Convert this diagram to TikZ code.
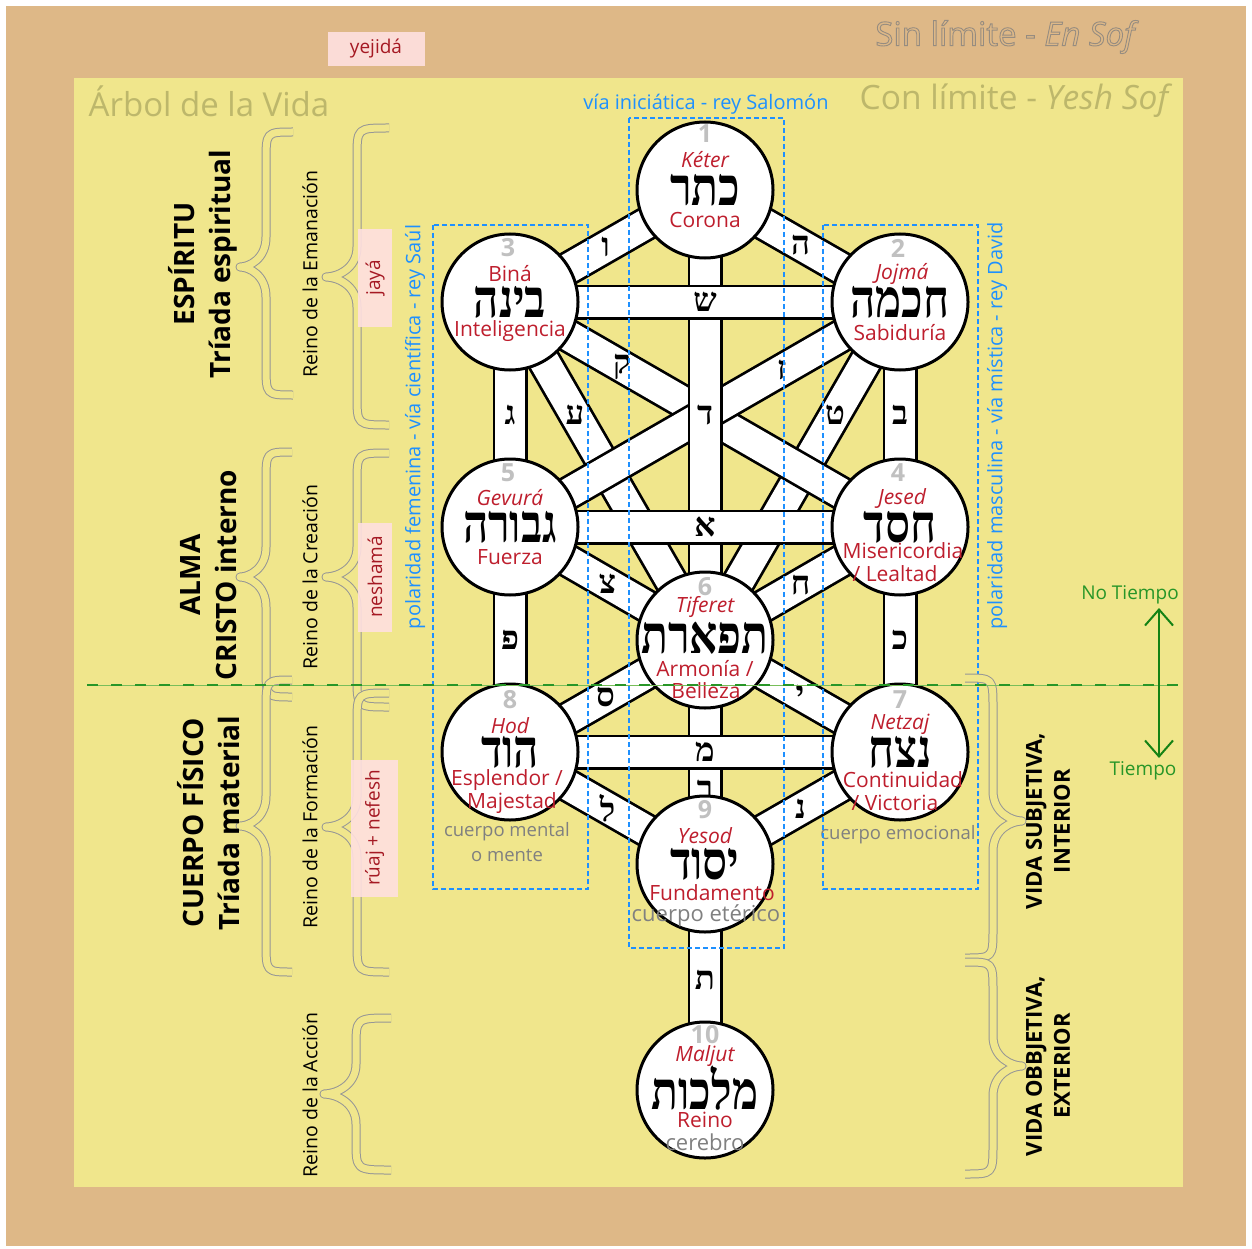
\documentclass[tikz,border=0pt]{standalone}
\usepackage{fontspec}
\setmainfont{Open Sans}
\newfontfamily\heb[Script=Hebrew]{Liberation Serif}
\TeXXeTstate=1
\usetikzlibrary{arrows.meta}
\definecolor{bgtan}{RGB}{222,184,135}
\definecolor{bgkhaki}{RGB}{240,230,140}
\definecolor{titlec}{RGB}{189,183,107}
\definecolor{sefred}{RGB}{190,30,45}
\definecolor{numgray}{RGB}{192,192,192}
\definecolor{txtgray}{RGB}{128,128,128}
\definecolor{viablue}{RGB}{30,144,255}
\definecolor{pinkbg}{RGB}{255,224,224}
\definecolor{pinktxt}{RGB}{165,25,35}
\definecolor{brgray}{RGB}{150,150,150}
\definecolor{tgreen}{RGB}{40,150,40}
\definecolor{agreen}{RGB}{20,130,20}
\definecolor{outlc}{RGB}{150,140,128}
\pgfdeclarelayer{bglayer}
\pgfdeclarelayer{pathlayer}
\pgfsetlayers{bglayer,pathlayer,main}
\newcommand\fs[1]{\fontsize{#1}{#1}\selectfont}
\newcommand\fsb[2]{\fontsize{#1}{#2}\selectfont}
\newcommand\outl[1]{\special{pdf:literal direct q 1 Tr 0.9 w}#1\special{pdf:literal direct Q}}
% sefirot path: from, to, pos, letter, label name
\newcommand\sefpath[5]{%
  \draw[barout] (#1.center) -- (#2.center);
  \draw[barin] (#1.center) -- (#2.center) node[pathlbl,pos=#3] (#5) {\beginR #4\endR};}
% brace: xend, xmid, xtip, ytop, ytip, ybottom
\newcommand\cbrace[6]{%
  \draw[bracestyle] (#1,#4) .. controls (#2,#4) and (#2,#4) .. (#2,#4+30)
    -- (#2,#5-30) .. controls (#2,#5-8) and ({0.65*#3+0.35*#2},#5) .. (#3,#5)
    .. controls ({0.65*#3+0.35*#2},#5) and (#2,#5+8) .. (#2,#5+30)
    -- (#2,#6-30) .. controls (#2,#6) and (#2,#6) .. (#1,#6);}
\begin{document}
\begin{tikzpicture}[x=1pt,y=-1pt,
  sef/.style={circle,draw=black,line width=3pt,fill=white,minimum size=136pt,inner sep=0pt},
  barout/.style={line width=35pt,draw=black},
  barin/.style={line width=29.5pt,draw=white},
  pathlbl/.style={inner sep=0pt,text=black,font=\heb\bfseries\fs{33}},
  num/.style={inner sep=0pt,text=numgray,font=\bfseries\fs{25}},
  nm/.style={inner sep=0pt,text=sefred,font=\itshape\fs{21}},
  nmup/.style={inner sep=0pt,text=sefred,font=\fs{21}},
  hebname/.style={inner sep=0pt,text=black,font=\heb\bfseries\fs{53},xscale=0.83},
  desc/.style={inner sep=0pt,text=sefred,font=\fs{21}},
  extra/.style={inner sep=0pt,text=txtgray,font=\fs{18.5}},
  extrab/.style={inner sep=0pt,text=txtgray,font=\fs{22}},
  vtitle/.style={inner sep=0pt,rotate=90,align=center,text=black,font=\bfseries\fsb{28}{36}},
  reino/.style={inner sep=0pt,rotate=90,text=black,font=\fs{19.5}},
  pinkb/.style={fill=pinkbg,fill opacity=0.9,text opacity=1,text=pinktxt,font=\fs{19},inner sep=0pt},
  bluetxt/.style={inner sep=0pt,text=viablue,font=\fs{20}},
  bluebox/.style={draw=viablue,line width=1.5pt,dash pattern=on 5pt off 3pt},
  bracestyle/.style={draw=brgray,line width=1pt,double=bgkhaki,double distance=7pt,line join=round},
  vida/.style={inner sep=0pt,rotate=90,align=center,text=black,font=\bfseries\fsb{22}{28}},
  gtxt/.style={inner sep=0pt,text=tgreen,font=\fs{19}}
]
\begin{pgfonlayer}{bglayer}
  \fill[white] (0,0) rectangle (1252,1249);
  \fill[bgtan] (6,6) rectangle (1246,1246);
  \fill[bgkhaki] (74,78) rectangle (1183,1187);
\end{pgfonlayer}
\useasboundingbox (0,0) rectangle (1252,1249);

% sefirot circles
\node[sef] (s1) at (705,190) {};
\node[sef] (s2) at (900,302) {};
\node[sef] (s3) at (510,302) {};
\node[sef] (s4) at (900,527) {};
\node[sef] (s5) at (510,527) {};
\node[sef] (s6) at (705,640) {};
\node[sef] (s7) at (900,752) {};
\node[sef] (s8) at (510,752) {};
\node[sef] (s9) at (705,864) {};
\node[sef] (s10) at (705,1090) {};

% paths
\begin{pgfonlayer}{pathlayer}
  \sefpath{s3}{s6}{0.333}{ע}{pA}
  \sefpath{s2}{s6}{0.333}{ט}{pB}
  \sefpath{s3}{s4}{0.287}{ק}{pC}
  \sefpath{s2}{s5}{0.303}{ז}{pD}
  \sefpath{s1}{s6}{0.5}{ד}{pE}
  \sefpath{s3}{s2}{0.5}{ש}{pF}
  \sefpath{s5}{s4}{0.5}{א}{pG}
  \sefpath{s1}{s2}{0.49}{ה}{pH}
  \sefpath{s1}{s3}{0.51}{ו}{pI}
  \sefpath{s3}{s5}{0.5}{ג}{pJ}
  \sefpath{s2}{s4}{0.5}{ב}{pK}
  \sefpath{s5}{s6}{0.5}{צ}{pL}
  \sefpath{s4}{s6}{0.51}{ח}{pM}
  \sefpath{s5}{s8}{0.5}{פ}{pN}
  \sefpath{s4}{s7}{0.5}{כ}{pO}
  \sefpath{s6}{s8}{0.51}{ס}{pP}
  \sefpath{s6}{s7}{0.487}{י}{pQ}
  \sefpath{s6}{s9}{0.67}{ר}{pR}
  \sefpath{s8}{s7}{0.5}{מ}{pS}
  \sefpath{s8}{s9}{0.5}{ל}{pT}
  \sefpath{s7}{s9}{0.51}{נ}{pU}
  \sefpath{s9}{s10}{0.513}{ת}{pV}
\end{pgfonlayer}

% sefirot texts
\node[num] (n1) at (705,134) {1};
\node[nm] (k1) at (705,160) {Kéter};
\node[hebname] (h1) at (705,190) {\beginR כתר\endR};
\node[desc] (d1) at (705,220) {Corona};

\node[num] (n3) at (508,248) {3};
\node[nmup] (k3) at (510,274) {Biná};
\node[hebname] (h3) at (510,302) {\beginR בינה\endR};
\node[desc] (d3) at (510,331) {Inteligencia};

\node[num] (n2) at (898,248) {2};
\node[nm] (k2) at (902,274) {Jojmá};
\node[hebname] (h2) at (900,302) {\beginR חכמה\endR};
\node[desc] (d2) at (900,333) {Sabiduría};

\node[num] (n5) at (508,473) {5};
\node[nm] (k5) at (510,498) {Gevurá};
\node[hebname] (h5) at (510,527) {\beginR גבורה\endR};
\node[desc] (d5) at (510,557) {Fuerza};

\node[num] (n4) at (898,473) {4};
\node[nm] (k4) at (902,498) {Jesed};
\node[hebname] (h4) at (900,527) {\beginR חסד\endR};
\node[desc] (d4a) at (903,551) {Misericordia};
\node[desc] (d4b) at (895,574) {/ Lealtad};

\node[num] (n6) at (705,587) {6};
\node[nm] (k6) at (705,607) {Tiferet};
\node[hebname] (h6) at (705,638) {\beginR תפארת\endR};
\node[desc] (d6a) at (705,669) {Armonía /};
\node[desc] (d6b) at (706,691) {Belleza};

\node[num] (n8) at (510,700) {8};
\node[nm] (k8) at (510,726) {Hod};
\node[hebname] (h8) at (510,752) {\beginR הוד\endR};
\node[desc] (d8a) at (507,780) {Esplendor /};
\node[desc] (d8b) at (512,803) {Majestad};
\node[extra] (e8a) at (507,832) {cuerpo mental};
\node[extra] (e8b) at (507,855) {o mente};

\node[num] (n7) at (900,700) {7};
\node[nm] (k7) at (900,724) {Netzaj};
\node[hebname] (h7) at (900,752) {\beginR נצח\endR};
\node[desc] (d7a) at (903,780) {Continuidad};
\node[desc] (d7b) at (895,803) {/ Victoria};
\node[extra] (e7) at (898,835) {cuerpo emocional};

\node[num] (n9) at (705,810) {9};
\node[nm] (k9) at (705,836) {Yesod};
\node[hebname] (h9) at (705,864) {\beginR יסוד\endR};
\node[desc] (d9) at (712,893) {Fundamento};
\node[extrab] (e9) at (706,916) {cuerpo etérico};

\node[num] (n10) at (705,1035) {10};
\node[nm] (k10) at (705,1056) {Maljut};
\node[hebname] (h10) at (705,1088) {\beginR מלכות\endR};
\node[desc] (d10) at (705,1120) {Reino};
\node[extrab] (e10) at (705,1142) {cerebro};

% blue dashed boxes and labels
\draw[bluebox] (629,118) rectangle (784,948);
\draw[bluebox] (433,225) rectangle (588,889);
\draw[bluebox] (823,225) rectangle (978,889);
\node[bluetxt] (via1) at (706,104) {vía iniciática - rey Salomón};
\node[bluetxt,rotate=90] (via2) at (415,427) {polaridad femenina - vía científica - rey Saúl};
\node[bluetxt,rotate=90] (via3) at (997,426) {polaridad masculina - vía mística - rey David};

% titles
\node[inner sep=0pt,text=titlec,font=\fs{33}] (arbol) at (209,101) {Árbol de la Vida};
\node[inner sep=0pt,text=titlec,font=\fs{33.5}] (conlim) at (1016,101) {Con límite - \textit{Yesh Sof}};
\node[inner sep=0pt,text=outlc,font=\fs{33}] (sinlim) at (1007,37) {\outl{Sin límite - \textit{En Sof}}};

% braces left
\cbrace{293}{266}{240}{132}{267}{395}
\cbrace{389}{357}{326}{128}{277}{425}
\cbrace{292}{266}{240}{452}{577}{697}
\cbrace{389}{357}{326}{453}{577}{707}
\cbrace{292}{266}{240}{680}{826}{972}
\cbrace{389}{357}{326}{693}{827}{972}
\cbrace{391}{356}{324}{1018}{1094}{1170}
% braces right
\cbrace{965}{993}{1022}{678}{821}{958}
\cbrace{965}{993}{1022}{962}{1066}{1174}

% left labels
\node[vtitle] (esp) at (203,264) {ESPÍRITU\\Tríada espiritual};
\node[vtitle] (alma) at (209,575) {ALMA\\CRISTO interno};
\node[vtitle] (cuerpo) at (209,823) {CUERPO FÍSICO\\Tríada material};
\node[reino] (r1) at (310,274) {Reino de la Emanación};
\node[reino] (r2) at (310,577) {Reino de la Creación};
\node[reino] (r3) at (310,827) {Reino de la Formación};
\node[reino] (r4) at (310,1095) {Reino de la Acción};

% pink boxes
\node[pinkb,minimum width=97pt,minimum height=34pt] (yej) at (376,49) {yejidá};
\node[pinkb,rotate=90,minimum width=97pt,minimum height=34pt] (jaya) at (375,278) {jayá};
\node[pinkb,rotate=90,minimum width=109pt,minimum height=34pt] (nesh) at (375,577) {neshamá};
\node[pinkb,rotate=90,minimum width=137pt,minimum height=47pt] (ruaj) at (374.5,828) {rúaj + nefesh};

% right labels
\node[vida] (vsub) at (1048,821) {VIDA SUBJETIVA,\\INTERIOR};
\node[vida] (vobj) at (1048,1066) {VIDA OBBJETIVA,\\EXTERIOR};

% time line
\coordinate (tl) at (87,685);
\coordinate (tr) at (1178,685);
\draw[draw={rgb,255:red,120;green,190;blue,90},line width=0.8pt] (tl) -- (tr);
\draw[draw=tgreen,line width=2pt,dash pattern=on 11pt off 13pt] (tl) -- (tr);
\node[gtxt] (notiempo) at (1130,595) {No Tiempo};
\node[gtxt] (tiempo) at (1143,771) {Tiempo};
\coordinate (au) at (1159,608);
\coordinate (ad) at (1159,758);
\draw[draw=agreen,line width=2pt,{Straight Barb[length=16pt,width=28pt]}-{Straight Barb[length=16pt,width=28pt]}] (au) -- (ad);
\end{tikzpicture}
\end{document}
